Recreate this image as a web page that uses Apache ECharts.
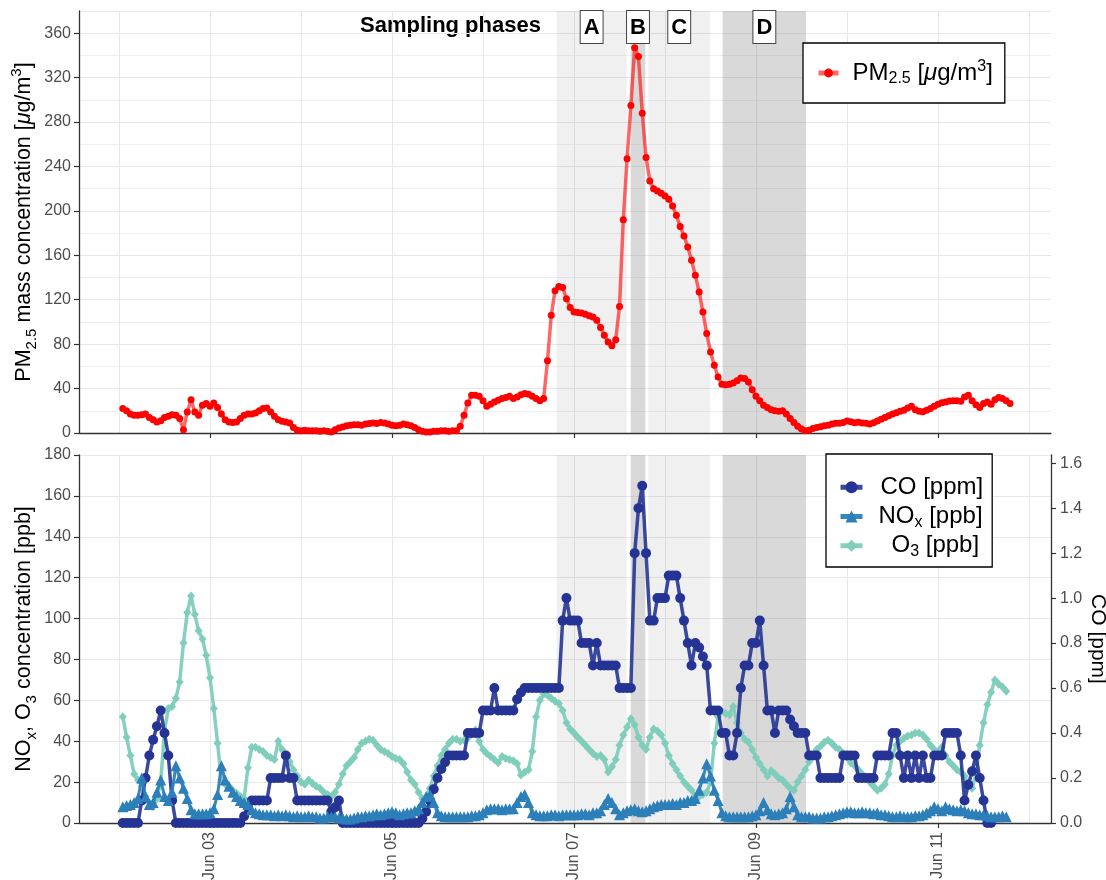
<!DOCTYPE html>
<html>
<head>
<meta charset="utf-8">
<script src="https://cdn.jsdelivr.net/npm/echarts@6/dist/echarts.min.js"></script>
<style>
  html, body { margin: 0; padding: 0; background: #fff; }
  #chart { width: 1106px; height: 880px; }
</style>
</head>
<body>
<div id="chart"></div>
<script>
// hourly samples, first one at Jun 02 01:00
// x axis is in hours counted from Jun 03 00:00
var startHour = -23;

var pm25 = [
  22, 20, 17, 16, 16, 16.5, 17, 14, 12, 10,
  11, 14, 15, 16.5, 16, 13, 3, 19, 30, 19,
  16, 25, 26.5, 24, 27, 23, 17, 12, 10, 9.5,
  10, 13, 16, 17, 17, 18, 20, 22, 22.5, 19,
  15, 12, 10.5, 10, 9, 5, 2.5, 2, 2.5, 2,
  2, 2, 1.5, 2, 1.5, 1, 3, 4.5, 5.5, 6.5,
  7, 7.5, 7.5, 7, 8, 8.5, 9, 8.5, 9.5, 9,
  8, 7, 6.5, 7, 8, 7.5, 6.5, 5, 3, 1.5,
  1, 1, 1.5, 1.5, 2, 2, 1.5, 2, 2, 6,
  16, 27, 34, 34, 33, 29, 24, 26, 28, 29.5,
  31, 32, 33, 31, 32.5, 34.5, 35.5, 35, 33, 31,
  29, 31, 65, 106, 128, 132, 131, 121, 113, 109,
  108.5, 108, 107, 105.5, 104.5, 101.5, 95, 88, 82, 78.5,
  84, 114, 192, 247, 295, 347, 339, 288, 248, 227,
  220, 218, 216, 213.5, 210.5, 204.5, 196, 186, 177.5, 167.5,
  155.5, 142, 127, 109, 89.5, 73, 61, 50.5, 44, 43.5,
  44, 45, 47, 49.5, 49, 46, 39, 33, 29, 25,
  23, 21, 20, 19.5, 20, 17, 13, 9.5, 6, 3.5,
  2, 2.5, 4, 5, 5.7, 6.5, 7, 8, 8.7, 8.7,
  9.5, 10.8, 10.2, 9.3, 9.6, 9, 8.7, 8.1, 9.3, 10.8,
  12.3, 14, 15.5, 17, 18.3, 19.5, 20.5, 22.5, 24, 21,
  19.5, 19.2, 20.5, 22, 24, 26, 27.3, 28, 28.8, 29,
  29, 28.5, 32.5, 34, 29, 25.5, 23, 26.5, 28, 26,
  30, 32, 31, 29, 26.5
];

// CO in ppm (right axis)
var co = [
  0, 0, 0, 0, 0, 0.1, 0.2, 0.3, 0.37, 0.43,
  0.5, 0.4, 0.3, 0.1, 0, 0, 0, 0, 0, 0,
  0, 0, 0, 0, 0, 0, 0, 0, 0, 0,
  0, 0, 0.03, 0.07, 0.1, 0.1, 0.1, 0.1, 0.1, 0.2,
  0.2, 0.2, 0.2, 0.3, 0.2, 0.2, 0.1, 0.1, 0.1, 0.1,
  0.1, 0.1, 0.1, 0.1, 0.1, 0.05, 0.07, 0.1, 0, 0,
  0, 0, 0, 0, 0, 0, 0, 0, 0, 0,
  0, 0, 0, 0, 0, 0, 0, 0, 0, 0.02,
  0.05, 0.1, 0.15, 0.2, 0.24, 0.27, 0.3, 0.3, 0.3, 0.3,
  0.3, 0.4, 0.4, 0.4, 0.4, 0.5, 0.5, 0.5, 0.6, 0.5,
  0.5, 0.5, 0.5, 0.5, 0.55, 0.58, 0.6, 0.6, 0.6, 0.6,
  0.6, 0.6, 0.6, 0.6, 0.6, 0.6, 0.9, 1.0, 0.9, 0.9,
  0.9, 0.8, 0.8, 0.8, 0.7, 0.8, 0.7, 0.7, 0.7, 0.7,
  0.7, 0.6, 0.6, 0.6, 0.6, 1.2, 1.4, 1.5, 1.2, 0.9,
  0.9, 1.0, 1.0, 1.0, 1.1, 1.1, 1.1, 1.0, 0.9, 0.8,
  0.7, 0.8, 0.78, 0.74, 0.7, 0.5, 0.5, 0.5, 0.4, 0.4,
  0.3, 0.3, 0.4, 0.6, 0.7, 0.7, 0.8, 0.8, 0.9, 0.7,
  0.5, 0.5, 0.4, 0.5, 0.5, 0.5, 0.46, 0.43, 0.4, 0.4,
  0.4, 0.3, 0.3, 0.3, 0.2, 0.2, 0.2, 0.2, 0.2, 0.2,
  0.3, 0.3, 0.3, 0.3, 0.2, 0.2, 0.2, 0.2, 0.2, 0.3,
  0.3, 0.3, 0.3, 0.4, 0.4, 0.3, 0.2, 0.3, 0.2, 0.3,
  0.2, 0.3, 0.2, 0.2, 0.3, 0.3, 0.3, 0.4, 0.4, 0.4,
  0.4, 0.3, 0.1, 0.17, 0.23, 0.3, 0.2, 0.1, 0, 0
];

// NOx in ppb
var nox = [
  8, 8.5, 9, 10, 12, 22, 13, 9, 10, 15,
  21, 13, 11, 15, 28, 22, 17, 12, 6.5, 4.5,
  4.5, 4.5, 4.5, 5, 7, 14, 28, 21, 18, 15,
  13, 11, 10, 9, 6.5, 5, 4.5, 4, 4, 4,
  3.5, 4, 3.5, 4, 3.5, 3, 3.5, 3, 3, 3.5,
  3, 3, 2.5, 2.5, 3, 3, 3, 2.5, 2.5, 2,
  2, 2.5, 3, 3, 3.5, 3.5, 4, 4.5, 4, 4.5,
  5, 5.5, 5, 4, 4.5, 5, 5, 6, 7, 10,
  13, 14, 10, 5, 3.5, 3, 3, 3, 3, 3,
  3, 3, 3.5, 3.5, 4, 5, 6.5, 7, 7, 7,
  6.5, 7, 7, 7, 10, 13, 14, 10, 5, 4,
  3.5, 3.5, 3.5, 4, 4, 3.5, 4, 4, 4, 4,
  4, 4.5, 4.5, 4, 5, 5, 6, 9, 12, 10,
  7, 4, 5, 6, 6.5, 7, 6, 5.5, 6, 7,
  8, 8.5, 9, 9, 9, 9.5, 9, 10, 10, 11,
  11, 12, 16, 22, 29, 23, 16, 11, 5, 3.5,
  3, 3, 3, 3, 3, 3, 3.5, 4, 6, 10,
  6.5, 4.5, 4, 4.5, 5, 7, 13, 8, 4, 3,
  3, 3, 2.5, 2.5, 2.5, 3, 3, 3.5, 4, 4.5,
  5, 5.5, 5.5, 5, 5, 5.5, 5, 5, 4.5, 5,
  4, 4, 3.5, 3, 3, 3.5, 3, 3, 3, 3.5,
  3.5, 4, 5, 6, 8, 7, 6, 8, 7, 6.5,
  6, 6.5, 6, 5, 4.5, 4.5, 4, 4, 3.5, 3,
  3, 3, 3.5, 3
];

// O3 in ppb
var o3 = [
  52, 42, 33, 24, 21, 18, 13, 10, 8, 12,
  20, 45, 56, 57, 61, 69, 88, 103, 111, 102,
  94, 90, 82, 71, 56, 39, 21, 19, 18, 16,
  14.5, 13, 12, 27, 37, 37, 36, 35, 33, 32,
  31, 40, 36, 33, 30, 26, 23, 20, 19, 21,
  19.5, 18, 17, 15, 14, 13, 15, 19, 24, 28,
  30, 32, 36, 39, 40, 41, 40.5, 38, 36, 35,
  34, 32.5, 31.5, 31, 29, 25, 21, 19, 15, 12,
  12, 17, 23, 28, 33, 36, 39, 41, 41, 40,
  40.5, 41.5, 44, 45.5, 40, 36, 34, 32.5, 31, 29.5,
  32.5, 31.5, 31, 30.5, 29, 23.5, 25, 26, 35, 52,
  60, 63, 62.5, 61, 59.5, 58.5, 55, 49, 46, 44,
  42, 40, 38, 36, 34, 32.5, 33, 31, 25, 27.5,
  31, 38, 43, 47, 51, 48, 42, 38, 36, 42,
  46, 45, 43, 39, 33, 29, 26, 23, 20, 18,
  16, 13, 13, 14, 15, 20, 39, 52, 54.5, 53.5,
  53, 57, 49, 44, 41, 39.5, 36, 32, 29, 26,
  23, 25.5, 24, 22, 21, 19, 17, 16, 20, 23,
  26, 30, 33, 36, 37.5, 39.5, 40.5, 39, 37, 36,
  34, 32, 29.5, 28, 26, 24, 22, 20, 18, 16,
  17, 19, 24, 33, 38, 40, 41.5, 42.5, 43, 44,
  44, 43, 41, 38, 36, 35, 37, 33, 30, 28,
  26, 25, 23, 19, 17, 24, 38, 49, 58, 64,
  70, 68, 66.5, 64.5
];

// sampling phases, hours from Jun 03 00:00
var phaseNames = ['A', 'B', 'C', 'D'];
var phaseStart = [91.4, 110.95, 115.6, 135.2];
var phaseEnd = [109.9, 114.8, 131.9, 157.2];

var tickHours = [0, 48, 96, 144, 192];
var gridHours = [-24, 0, 24, 48, 72, 96, 120, 144, 168, 192, 216];

var xMin = -34.55, xMax = 221.8;
var coScale = 110; // 1 ppm on right axis = 110 ppb on left axis

var font = 'Liberation Sans, Arial, Helvetica, sans-serif';
var labelGrey = '#4d4d4d';
var axisDark = '#333333';

function toPairs(arr) {
  return arr.map(function (v, i) { return [startHour + i, v]; });
}

function fmtDay(h) {
  var d = 3 + Math.round(h / 24);
  return 'Jun ' + (d < 10 ? '0' + d : d);
}

function phaseAreas(withLabel) {
  return phaseNames.map(function (n, i) {
    var dark = (n === 'B' || n === 'D');
    return [
      { xAxis: phaseStart[i], name: withLabel ? n : '',
        itemStyle: { color: dark ? 'rgba(128,128,128,0.30)' : 'rgba(128,128,128,0.12)' } },
      { xAxis: phaseEnd[i] }
    ];
  });
}

var vGrid = gridHours.map(function (h) { return { xAxis: h }; });

var chart = echarts.init(document.getElementById('chart'), null, { renderer: 'canvas' });

var xBase = {
  type: 'value', min: xMin, max: xMax,
  axisLine: { show: true, onZero: false, lineStyle: { color: axisDark, width: 1.3 } },
  axisTick: { show: true, customValues: tickHours, length: 5, lineStyle: { color: axisDark, width: 1.2 } },
  splitLine: { show: false }
};

var richTitle = {
  t: { fontSize: 21.5, lineHeight: 30, color: '#000', fontFamily: font },
  i: { fontSize: 21.5, lineHeight: 30, color: '#000', fontStyle: 'italic', fontFamily: font },
  s: { fontSize: 15, lineHeight: 30, color: '#000', verticalAlign: 'bottom', fontFamily: font },
  p: { fontSize: 15, lineHeight: 30, color: '#000', verticalAlign: 'top', fontFamily: font }
};

var richLegend = {
  t: { fontSize: 24, lineHeight: 28, color: '#000', fontFamily: font },
  i: { fontSize: 24, lineHeight: 28, color: '#000', fontStyle: 'italic', fontFamily: font },
  s: { fontSize: 16, lineHeight: 28, color: '#000', verticalAlign: 'bottom', fontFamily: font },
  p: { fontSize: 16, lineHeight: 28, color: '#000', verticalAlign: 'top', fontFamily: font },
  pad2: { width: 2 },
  pad13: { width: 13 }
};

var legendText = {
  pm: '{t|PM}{s|2.5}{t| [}{i|\u03bc}{t|g/m}{p|3}{t|]}',
  co: '{pad2|}{t|CO [ppm]}',
  nox: '{t|NO}{s|x}{t| [ppb]}',
  o3: '{pad13|}{t|O}{s|3}{t| [ppb]}'
};

var option = {
  animation: false,
  backgroundColor: '#fff',
  textStyle: { fontFamily: font },
  grid: [
    { left: 79, right: 55, top: 11, height: 422, outerBoundsMode: 'none' },
    { left: 79, right: 55, top: 455, height: 368, outerBoundsMode: 'none' }
  ],
  xAxis: [
    Object.assign({}, xBase, { gridIndex: 0, axisLabel: { show: false } }),
    Object.assign({}, xBase, {
      gridIndex: 1,
      axisLabel: { show: true, customValues: tickHours, rotate: 90, margin: 9,
        fontSize: 16, color: labelGrey, formatter: fmtDay }
    })
  ],
  yAxis: [
    {
      gridIndex: 0, type: 'value', min: 0, max: 380, interval: 40,
      name: '{t|PM}{s|2.5}{t| mass concentration [}{i|\u03bc}{t|g/m}{p|3}{t|]}',
      nameLocation: 'middle', nameGap: 40, nameMoveOverlap: false,
      nameTextStyle: { rich: richTitle },
      axisLine: { show: true, onZero: false, lineStyle: { color: axisDark, width: 1.3 } },
      axisTick: { show: true, length: 5, lineStyle: { color: axisDark, width: 1.2 } },
      axisLabel: { fontSize: 16, color: labelGrey, margin: 8, showMaxLabel: false },
      splitLine: { show: true, lineStyle: { color: '#e8e8e8', width: 1 } },
      minorTick: { show: false, splitNumber: 2 },
      minorSplitLine: { show: true, lineStyle: { color: '#efefef', width: 1 } }
    },
    {
      gridIndex: 1, type: 'value', min: 0, max: 180, interval: 20,
      name: '{t|NO}{s|x}{t|, O}{s|3}{t| concentration [ppb]}',
      nameLocation: 'middle', nameGap: 40, nameMoveOverlap: false,
      nameTextStyle: { rich: richTitle },
      axisLine: { show: true, onZero: false, lineStyle: { color: axisDark, width: 1.3 } },
      axisTick: { show: true, length: 5, lineStyle: { color: axisDark, width: 1.2 } },
      axisLabel: { fontSize: 16, color: labelGrey, margin: 8 },
      splitLine: { show: true, lineStyle: { color: '#e8e8e8', width: 1 } }
    },
    {
      gridIndex: 1, type: 'value', position: 'right', min: 0, max: 180 / coScale, interval: 0.2,
      name: 'CO [ppm]', nameLocation: 'middle', nameGap: 36, nameRotate: -90, nameMoveOverlap: false,
      nameTextStyle: { fontSize: 21, color: '#000' },
      axisLine: { show: true, onZero: false, lineStyle: { color: axisDark, width: 1.3 } },
      axisTick: { show: true, length: 5, lineStyle: { color: axisDark, width: 1.2 } },
      axisLabel: { fontSize: 16, color: labelGrey, margin: 9, showMaxLabel: false,
        formatter: function (v) { return v.toFixed(1); } },
      splitLine: { show: false }
    }
  ],
  legend: [
    {
      data: ['pm'], left: 803, top: 43,
      padding: [16, 12, 16, 13],
      borderColor: '#000', borderWidth: 1.3, backgroundColor: '#fff',
      itemWidth: 20, itemHeight: 11,
      lineStyle: { width: 5 },
      formatter: function (n) { return legendText[n]; },
      textStyle: { rich: richLegend, padding: [0, 0, 0, 9] }
    },
    {
      data: ['co', 'nox', 'o3'], orient: 'vertical', left: 826, top: 454,
      padding: [19, 9, 7, 12], itemGap: 1,
      borderColor: '#000', borderWidth: 1.3, backgroundColor: '#fff',
      itemWidth: 22, itemHeight: 15,
      lineStyle: { width: 5 },
      formatter: function (n) { return legendText[n]; },
      textStyle: { rich: richLegend, padding: [0, 0, 0, 11], lineHeight: 28.5 }
    }
  ],
  graphic: [
    { type: 'text', left: 360, top: 15,
      style: { text: 'Sampling phases', font: 'bold 22px ' + font, fill: '#000' } }
  ],
  series: [
    {
      name: 'phasesTop', type: 'line', xAxisIndex: 0, yAxisIndex: 0, data: [], silent: true,
      markLine: { silent: true, z: 0, symbol: ['none', 'none'], label: { show: false },
        lineStyle: { color: '#e8e8e8', width: 1, type: 'solid' }, data: vGrid },
      markArea: {
        silent: true, z: 1,
        label: { show: true, position: 'insideTop', distance: 0, formatter: '{b}',
          fontSize: 22, fontWeight: 'bold', color: '#000', fontFamily: font,
          backgroundColor: '#fff', borderColor: '#444', borderWidth: 1,
          padding: [6, 3, 4, 3], lineHeight: 22 },
        data: phaseAreas(true)
      }
    },
    {
      name: 'phasesBottom', type: 'line', xAxisIndex: 1, yAxisIndex: 1, data: [], silent: true,
      markLine: { silent: true, z: 0, symbol: ['none', 'none'], label: { show: false },
        lineStyle: { color: '#e8e8e8', width: 1, type: 'solid' }, data: vGrid },
      markArea: { silent: true, z: 1, label: { show: false }, data: phaseAreas(false) }
    },
    {
      name: 'pm', type: 'line', xAxisIndex: 0, yAxisIndex: 0, z: 3,
      data: toPairs(pm25),
      symbol: 'circle', symbolSize: 7,
      itemStyle: { color: '#ff0000' },
      lineStyle: { color: 'rgba(255,0,0,0.6)', width: 3.5 }
    },
    {
      name: 'o3', type: 'line', xAxisIndex: 1, yAxisIndex: 1, z: 3,
      data: toPairs(o3),
      symbol: 'diamond', symbolSize: [8, 9],
      itemStyle: { color: '#7fcdbb' },
      lineStyle: { color: 'rgba(127,205,187,0.95)', width: 3.5 }
    },
    {
      name: 'co', type: 'line', xAxisIndex: 1, yAxisIndex: 2, z: 4,
      data: toPairs(co),
      symbol: 'circle', symbolSize: 10,
      itemStyle: { color: '#253494' },
      lineStyle: { color: 'rgba(37,52,148,0.9)', width: 3.5 }
    },
    {
      name: 'nox', type: 'line', xAxisIndex: 1, yAxisIndex: 1, z: 5,
      data: toPairs(nox),
      symbol: 'triangle', symbolSize: 11,
      itemStyle: { color: '#2c7fb8' },
      lineStyle: { color: 'rgba(44,127,184,0.95)', width: 3 }
    }
  ]
};

chart.setOption(option);
</script>
</body>
</html>
